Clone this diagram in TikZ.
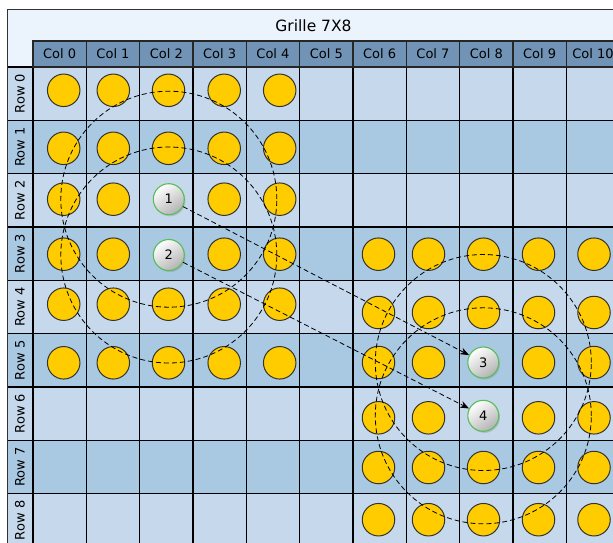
\documentclass[tikz,border=0pt]{standalone}
\usepackage{fontspec}
\setmainfont{DejaVu Sans}
\usepackage{xcolor}
\usetikzlibrary{arrows.meta,shadows}
\definecolor{hdblue}{RGB}{113,147,181}
\definecolor{rwlight}{RGB}{197,216,236}
\definecolor{rwdark}{RGB}{169,200,226}
\definecolor{ttlbg}{RGB}{235,243,253}
\definecolor{gold}{RGB}{255,204,0}
\definecolor{ring}{RGB}{86,190,86}
\tikzset{
  cl/.style={draw=black,line width=1.4pt},
  hd/.style={draw=black!85,line width=1.2pt,fill=hdblue,minimum width=53.33pt,minimum height=26pt,inner sep=0pt},
  tk/.style={circle,minimum size=32.5pt,inner sep=0pt,fill=gold,draw=black!80,line width=1pt},
  bl/.style={circle,minimum size=31pt,inner sep=0pt,draw=ring,line width=1.1pt,top color=white,bottom color=black!30,shading angle=35,
    drop shadow={shadow xshift=1.2pt,shadow yshift=-1.6pt,opacity=0.3},font=\fontsize{13}{15}\selectfont},
  rg/.style={dash pattern=on 5pt off 3pt,line width=0.8pt},
  mv/.style={dash pattern=on 5pt off 3pt,line width=0.8pt,-{Stealth[length=9pt,width=7pt]}},
  lbl/.style={font=\fontsize{13}{15}\selectfont}
}
\newcommand{\cellw}{53.33}

\begin{document}
\begin{tikzpicture}[x=1pt,y=-1pt]
\useasboundingbox (0,0) rectangle (613,543);
\fill[ttlbg] (7.3,9.7) rectangle (620,67);
\node[font=\fontsize{15.5}{18}\selectfont] (ttl) at (313.5,25.5) {Grille 7X8};
\foreach \r in {0,...,8}{
  \ifodd\r\def\rc{rwdark}\else\def\rc{rwlight}\fi
  \draw[cl,fill=\rc] (7.3,{67+\r*\cellw}) rectangle (33,{67+(\r+1)*\cellw});
  \node[lbl,rotate=90] (r\r) at (20,{67+(\r+0.5)*\cellw}) {Row \r};
  \foreach \c in {0,...,10}
    \draw[cl,fill=\rc] ({33+\c*\cellw},{67+\r*\cellw}) rectangle ++(\cellw,\cellw);
}
\foreach \c in {0,...,10}
  \node[hd,lbl] (c\c) at ({33+(\c+0.5)*\cellw},54) {Col \c};
\draw[black!80,line width=1pt] (7.3,543) |- (620,9.7);
\foreach \r/\y in {0/90.3,1/148.3,2/199.2,3/254.2,4/304.2,5/362.8}
  \foreach \c/\x in {0/63.7,1/113.3,2/168.5,3/224.2,4/279.7}{
    \pgfmathtruncatemacro\tkoff{and(\c==2,or(\r==2,\r==3))}
    \ifnum\tkoff=0 \node[tk] (t\r-\c) at (\x,\y) {};\fi
  }
\foreach \r/\y in {3/254.2,4/312.5,5/362.5,6/417.8,7/467.5,8/519.7}
  \foreach \c/\x in {6/378.5,7/428.5,8/483.5,9/538.5,10/594}{
    \pgfmathtruncatemacro\tkoff{and(\c==8,or(\r==5,\r==6))}
    \ifnum\tkoff=0 \node[tk] (t\r-\c) at (\x,\y) {};\fi
  }
\coordinate (p1) at (168.8,199.2);
\coordinate (p2) at (168.8,255);
\coordinate (p3) at (483.3,362.5);
\coordinate (p4) at (483.3,415.8);
\foreach \p in {1,...,4}
  \draw[rg] (p\p) circle[radius=108pt];
\foreach \p in {1,...,4}
  \node[bl] (b\p) at (p\p) {\p};
\draw[mv] (b1) -- (b3);
\draw[mv] (b2) -- (b4);
\end{tikzpicture}
\end{document}
